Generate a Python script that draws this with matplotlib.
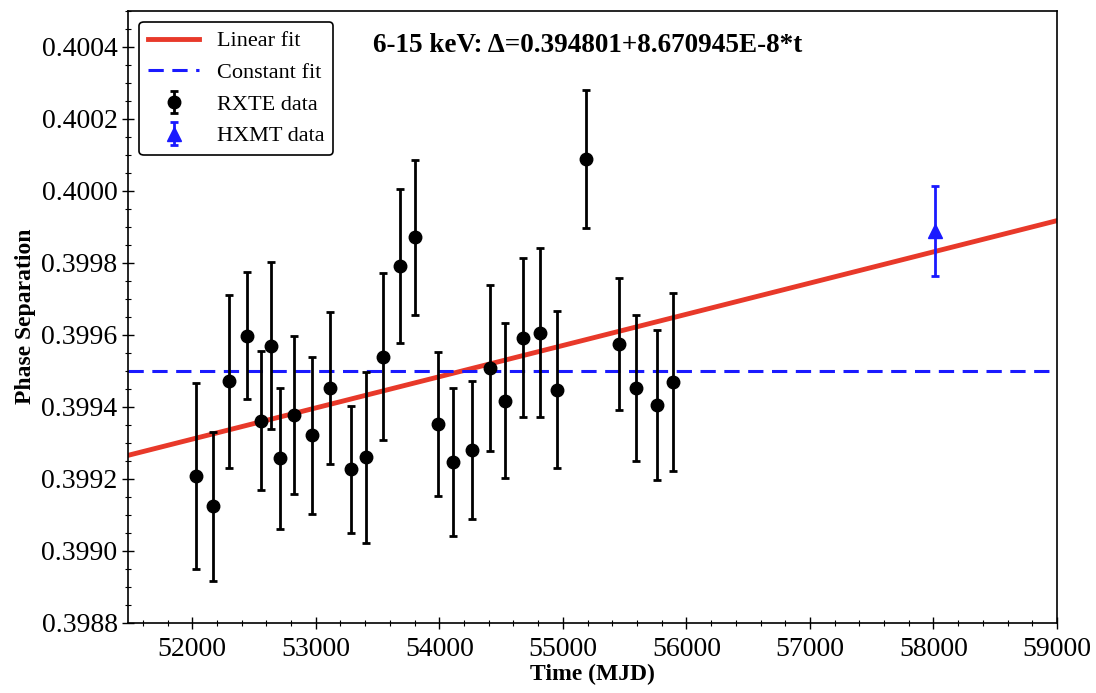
import matplotlib.pyplot as plt
import matplotlib.ticker as ticker
import numpy as np

plt.rcParams["font.family"] = "Liberation Serif"
plt.rcParams["mathtext.fontset"] = "stix"

# RXTE phase separation, 6-15 keV
rxte_t = [52032, 52167, 52296, 52445, 52558, 52639, 52708, 52821, 52967, 53118,
          53282, 53409, 53544, 53684, 53805, 53989, 54107, 54261, 54414, 54530,
          54676, 54816, 54951, 55185, 55454, 55594, 55759, 55891]
rxte_d = [0.399207, 0.399123, 0.399470, 0.399597, 0.399361, 0.399569, 0.399257,
          0.399377, 0.399320, 0.399452, 0.399226, 0.399259, 0.399539, 0.399791,
          0.399871, 0.399352, 0.399246, 0.399280, 0.399507, 0.399417, 0.399592,
          0.399606, 0.399447, 0.400089, 0.399574, 0.399452, 0.399405, 0.399468]
rxte_e = [0.000259, 0.000207, 0.000240, 0.000177, 0.000193, 0.000232, 0.000196,
          0.000220, 0.000219, 0.000211, 0.000176, 0.000237, 0.000232, 0.000213,
          0.000215, 0.000200, 0.000206, 0.000191, 0.000231, 0.000216, 0.000222,
          0.000234, 0.000218, 0.000192, 0.000183, 0.000204, 0.000209, 0.000247]

# HXMT point
hxmt_t = [58010]
hxmt_d = [0.399887]
hxmt_e = [0.000125]

# fit parameters
a0, a1 = 0.394801, 8.670945e-8
const = 0.3995

fig = plt.figure(figsize=(10.96, 6.93), dpi=100)
ax = fig.add_axes([0.1168, 0.1015, 0.8476, 0.883])

tt = np.array([51480, 59000])
ax.plot(tt, a0 + a1 * tt, color='#e8392a', lw=3.5, label='Linear fit', zorder=2)
ax.axhline(const, color='#1a1aff', lw=2.2, ls=(0, (5, 2.8)), label='Constant fit', zorder=2)
ax.errorbar(rxte_t, rxte_d, yerr=rxte_e, fmt='o', color='black', ms=9,
            elinewidth=2, capsize=3, capthick=2, label='RXTE data', zorder=3)
ax.errorbar(hxmt_t, hxmt_d, yerr=hxmt_e, fmt='^', color='#1a1aff', ms=10.5,
            elinewidth=2, capsize=3, capthick=2, label='HXMT data', zorder=3)

ax.set_xlim(51480, 59000)
ax.set_ylim(0.3988, 0.4005)
ax.xaxis.set_major_locator(ticker.MultipleLocator(1000))
ax.xaxis.set_minor_locator(ticker.MultipleLocator(200))
ax.yaxis.set_major_locator(ticker.MultipleLocator(0.0002))
ax.yaxis.set_minor_locator(ticker.MultipleLocator(0.00005))
ax.yaxis.set_major_formatter(ticker.FormatStrFormatter('%.4f'))
ax.tick_params(which='major', direction='inout', length=8, width=1, labelsize=20)
ax.tick_params(axis='x', which='major', pad=6)
ax.tick_params(which='minor', direction='inout', length=4, width=0.8)
for s in ax.spines.values():
    s.set_linewidth(1.2)

ax.set_xlabel('Time (MJD)', fontsize=17, fontweight='bold', labelpad=2)
ax.set_ylabel('Phase Separation', fontsize=17, fontweight='bold')

ax.text(0.495, 0.944, '6-15 keV: \u0394=0.394801+8.670945E-8*t', transform=ax.transAxes,
        ha='center', va='center', fontsize=19.5, fontweight='bold')

leg = ax.legend(loc='upper left', fontsize=16, frameon=True, fancybox=True,
                edgecolor='black', framealpha=1, handlelength=2.3,
                borderaxespad=0.5, labelspacing=0.5)
leg.get_frame().set_linewidth(1.2)

plt.savefig('out.png', dpi=100)
